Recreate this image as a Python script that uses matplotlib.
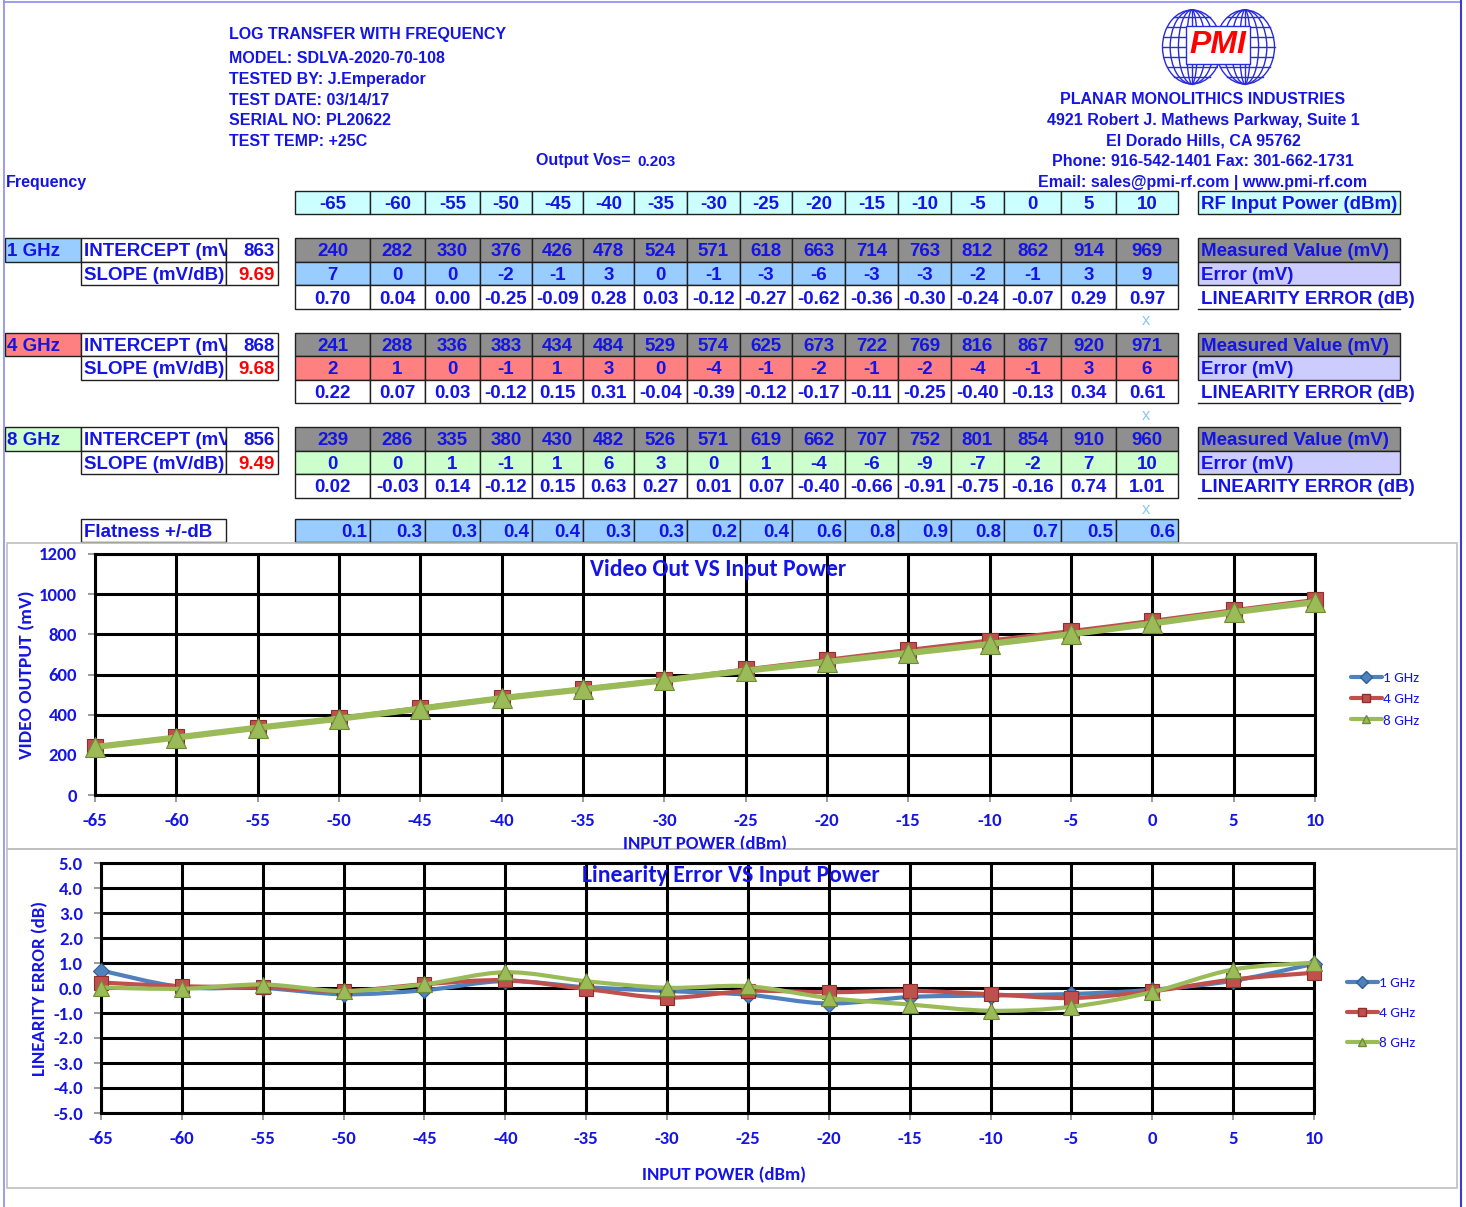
import numpy as np
import matplotlib
matplotlib.use("Agg")
import matplotlib.pyplot as plt
from matplotlib.patches import Rectangle, Ellipse, PathPatch
from matplotlib.path import Path
from matplotlib.lines import Line2D

plt.rcParams['axes.unicode_minus'] = False

# ---- values ----
power = [-65, -60, -55, -50, -45, -40, -35, -30, -25, -20, -15, -10, -5, 0, 5, 10]
freq_labels = ["1 GHz", "4 GHz", "8 GHz"]
intercept = [863, 868, 856]
slope = [9.69, 9.68, 9.49]

meas_1g = [240, 282, 330, 376, 426, 478, 524, 571, 618, 663, 714, 763, 812, 862, 914, 969]
err_1g = [7, 0, 0, -2, -1, 3, 0, -1, -3, -6, -3, -3, -2, -1, 3, 9]
lin_1g = [0.70, 0.04, 0.00, -0.25, -0.09, 0.28, 0.03, -0.12, -0.27, -0.62, -0.36, -0.30, -0.24, -0.07, 0.29, 0.97]

meas_4g = [241, 288, 336, 383, 434, 484, 529, 574, 625, 673, 722, 769, 816, 867, 920, 971]
err_4g = [2, 1, 0, -1, 1, 3, 0, -4, -1, -2, -1, -2, -4, -1, 3, 6]
lin_4g = [0.22, 0.07, 0.03, -0.12, 0.15, 0.31, -0.04, -0.39, -0.12, -0.17, -0.11, -0.25, -0.40, -0.13, 0.34, 0.61]

meas_8g = [239, 286, 335, 380, 430, 482, 526, 571, 619, 662, 707, 752, 801, 854, 910, 960]
err_8g = [0, 0, 1, -1, 1, 6, 3, 0, 1, -4, -6, -9, -7, -2, 7, 10]
lin_8g = [0.02, -0.03, 0.14, -0.12, 0.15, 0.63, 0.27, 0.01, 0.07, -0.40, -0.66, -0.91, -0.75, -0.16, 0.74, 1.01]

flatness = [0.1, 0.3, 0.3, 0.4, 0.4, 0.3, 0.3, 0.2, 0.4, 0.6, 0.8, 0.9, 0.8, 0.7, 0.5, 0.6]
output_vos = 0.203

header_lines = ["LOG TRANSFER WITH FREQUENCY", "MODEL: SDLVA-2020-70-108", "TESTED BY: J.Emperador",
                "TEST DATE: 03/14/17", "SERIAL NO: PL20622", "TEST TEMP: +25C"]
company_lines = ["PLANAR MONOLITHICS INDUSTRIES", "4921 Robert J. Mathews Parkway, Suite 1",
                 "El Dorado Hills, CA 95762", "Phone: 916-542-1401 Fax: 301-662-1731",
                 "Email: sales@pmi-rf.com | www.pmi-rf.com"]

BLUE = '#1414E6'
TFONT = ['Liberation Sans', 'DejaVu Sans']
CFONT = ['Carlito', 'Lato', 'DejaVu Sans']
TSIZE = 13.5
series_colors = ['#4F81BD', '#C0504D', '#9BBB59']
series_edges = ['#2F5F95', '#8E2F2C', '#6E8C35']
series_markers = ['D', 's', '^']
err_fills = ['#99CCFF', '#FF8080', '#CCFFCC']

W, H = 1466, 1207
fig = plt.figure(figsize=(W / 100, H / 100), dpi=100)
bg = fig.add_axes([0, 0, 1, 1])
bg.set_xlim(0, W)
bg.set_ylim(H, 0)
bg.axis('off')


def px_rect(x0, y0, x1, y1):
    return [x0 / W, 1 - y1 / H, (x1 - x0) / W, (y1 - y0) / H]


def ftext(x, y, s, **kw):
    return fig.text(x / W, 1 - y / H, s, **kw)


def cell(x0, x1, y0, y1, fill='white', text=None, color=BLUE, ha='center', size=TSIZE, clip=False, pad=3):
    r = Rectangle((x0, y0), x1 - x0, y1 - y0, facecolor=fill, edgecolor='#202020', lw=1.0)
    bg.add_patch(r)
    if text is not None:
        tx = {'center': (x0 + x1) / 2, 'left': x0 + pad, 'right': x1 - pad}[ha]
        t = bg.text(tx, (y0 + y1) / 2 + 2, text, ha=ha, va='center', color=color,
                    fontsize=size, fontweight='bold', family=TFONT)
        if clip:
            t.set_clip_on(True)
            t.set_clip_path(r)
    return r


# page frame
bg.plot([4, 4], [0, H], color='#8C8CF0', lw=1.2)
bg.plot([4, 1461], [2, 2], color='#8C8CF0', lw=1.2)
bg.plot([1461, 1461], [0, H], color='#3B3BD0', lw=1.5)

# header text
for i, line in enumerate(header_lines):
    yy = 34.5 if i == 0 else 58.5 + (i - 1) * 20.8
    bg.text(229, yy, line, ha='left', va='center', color=BLUE, fontsize=11.5,
            fontweight='bold', family=TFONT)
bg.text(536, 161, "Output Vos=", ha='left', va='center', color=BLUE, fontsize=11.5,
        fontweight='bold', family=TFONT)
bg.text(637, 162, f"{output_vos:.3f}", ha='left', va='center', color=BLUE, fontsize=11,
        fontweight='bold', family=TFONT)
bg.text(6, 182.5, "Frequency", ha='left', va='center', color=BLUE, fontsize=11.5,
        fontweight='bold', family=TFONT)

for i, line in enumerate(company_lines):
    bg.text(1203, 99.5 + i * 20.7, line, ha='center', va='center', color=BLUE, fontsize=11.5,
            fontweight='bold', family=TFONT)

# PMI logo
LOGO = '#2A2AE0'
for gx in (1192, 1245):
    rx, ry, cy = 29.5, 37, 47
    for k in [1.0, 0.74, 0.46, 0.18]:
        bg.add_patch(Ellipse((gx, cy), 2 * rx * k, 2 * ry, fill=False, ec=LOGO, lw=1.0))
    bg.plot([gx, gx], [cy - ry, cy + ry], color=LOGO, lw=1.0)
    for fy in np.linspace(-0.8, 0.8, 7):
        half = rx * np.sqrt(1 - fy ** 2)
        bg.plot([gx - half, gx + half], [cy + fy * ry] * 2, color=LOGO, lw=1.0)
bg.text(1218, 45, "PMI", ha='center', va='center', color='#FF0000', fontsize=23,
        fontweight='bold', style='italic', family=TFONT,
        bbox=dict(boxstyle='square,pad=0.12', fc='white', ec=LOGO, lw=1.0))

# table
col_edges = [295, 370, 425, 480, 532, 583, 634, 687, 740, 792, 845, 898, 951, 1004, 1061, 1116, 1178]
for j, p in enumerate(power):
    cell(col_edges[j], col_edges[j + 1], 191, 214, fill='#CCFFFF', text=str(p))
cell(1198, 1400, 191, 214, fill='#CCFFFF', text="RF Input Power (dBm)", ha='left')

blocks = [(meas_1g, err_1g, lin_1g), (meas_4g, err_4g, lin_4g), (meas_8g, err_8g, lin_8g)]
tops = [238, 332.5, 427]
rh = 23.6
for b, (meas, err, lin) in enumerate(blocks):
    y0 = tops[b]
    cell(5, 81, y0, y0 + rh, fill=err_fills[b], text=freq_labels[b], ha='left', pad=2)
    cell(81, 226, y0, y0 + rh, text="INTERCEPT (mV)", ha='left', clip=True)
    cell(226, 278, y0, y0 + rh, text=str(intercept[b]), ha='right')
    cell(81, 226, y0 + rh, y0 + 2 * rh, text="SLOPE (mV/dB)", ha='left', clip=True)
    cell(226, 278, y0 + rh, y0 + 2 * rh, text=f"{slope[b]:.2f}", ha='right', color='#FF0000')
    for j in range(len(power)):
        x0, x1 = col_edges[j], col_edges[j + 1]
        cell(x0, x1, y0, y0 + rh, fill='#8F8F8F', text=str(meas[j]))
        cell(x0, x1, y0 + rh, y0 + 2 * rh, fill=err_fills[b], text=str(err[j]))
        cell(x0, x1, y0 + 2 * rh, y0 + 3 * rh, text=f"{lin[j]:.2f}")
    cell(1198, 1400, y0, y0 + rh, fill='#8F8F8F', text="Measured Value (mV)", ha='left')
    cell(1198, 1400, y0 + rh, y0 + 2 * rh, fill='#CCCCFF', text="Error (mV)", ha='left')
    bg.plot([1198, 1400], [y0 + 3 * rh] * 2, color='#202020', lw=1.0)
    bg.text(1201, y0 + 2.5 * rh + 2, "LINEARITY ERROR (dB)", ha='left', va='center', color=BLUE,
            fontsize=TSIZE, fontweight='bold', family=TFONT)
    bg.text(1146, y0 + 3 * rh + 12, "x", ha='center', va='center', color='#8EC8F0', fontsize=12,
            family=TFONT)

cell(81, 226, 519, 542, text="Flatness +/-dB", ha='left')
for j, f in enumerate(flatness):
    cell(col_edges[j], col_edges[j + 1], 519, 542, fill='#99CCFF', text=f"{f:.1f}", ha='right')

# chart frames
bg.add_patch(Rectangle((7, 543), 1450, 306, fill=False, ec='#BFBFBF', lw=1.2))
bg.add_patch(Rectangle((7, 849), 1450, 339, fill=False, ec='#BFBFBF', lw=1.2))


def smooth_path(x, y):
    pts = np.column_stack([x, y]).astype(float)
    p = np.vstack([pts[0], pts, pts[-1]])
    verts, codes = [pts[0]], [Path.MOVETO]
    for i in range(len(pts) - 1):
        c1 = p[i + 1] + (p[i + 2] - p[i]) / 6
        c2 = p[i + 2] - (p[i + 3] - p[i + 1]) / 6
        verts += [c1, c2, p[i + 2]]
        codes += [Path.CURVE4] * 3
    return Path(verts, codes)


def style_chart(ax, ylim, yticks, yfmt):
    ax.set_xlim(power[0], power[-1])
    ax.set_ylim(*ylim)
    ax.set_xticks(power)
    ax.set_xticklabels([str(p) for p in power])
    ax.set_yticks(yticks)
    ax.set_yticklabels([yfmt.format(v) for v in yticks])
    ax.grid(True, color='black', lw=2.2)
    ax.set_axisbelow(True)
    for s in ax.spines.values():
        s.set_color('black')
        s.set_linewidth(2.2)
    ax.tick_params(direction='out', length=5, width=1.2, color='#8A8A8A', pad=8,
                   labelcolor=BLUE, labelsize=13.5)
    for lab in ax.get_xticklabels() + ax.get_yticklabels():
        lab.set_fontweight('bold')
        lab.set_family(CFONT)


# ---- chart 1: video out ----
ax1 = fig.add_axes(px_rect(95, 554, 1315, 795))
style_chart(ax1, (0, 1200), list(range(0, 1201, 200)), "{:d}")
meas_all = [meas_1g, meas_4g, meas_8g]
lw1 = [2.0, 3.0, 4.5]
ms1 = [8, 12, 14]
for k in range(3):
    ax1.add_patch(PathPatch(smooth_path(power, meas_all[k]), fill=False, ec=series_colors[k],
                            lw=lw1[k], capstyle='round', zorder=3 + k))
    ax1.plot(power, meas_all[k], ls='none', marker=series_markers[k], ms=ms1[k],
             mfc=series_colors[k], mec=series_edges[k], mew=0.8, clip_on=False, zorder=3.5 + k)

# ---- chart 2: linearity error ----
ax2 = fig.add_axes(px_rect(101, 863, 1314, 1113))
style_chart(ax2, (-5, 5), list(range(-5, 6)), "{:.1f}")
lin_all = [lin_1g, lin_4g, lin_8g]
ms2 = [8, 10, 11]
for k in range(3):
    ax2.add_patch(PathPatch(smooth_path(power, lin_all[k]), fill=False, ec=series_colors[k],
                            lw=3.0, capstyle='round', zorder=3 + k))
    ax2.plot(power, lin_all[k], ls='none', marker=series_markers[k], ms=ms2[k],
             mfc=series_colors[k], mec=series_edges[k], mew=0.8, clip_on=False, zorder=3.5 + k)

handles = [Line2D([], [], color=series_colors[k], lw=3, marker=series_markers[k], ms=6,
                  mfc=series_colors[k], mec=series_edges[k], solid_capstyle='round') for k in range(3)]
ax1.legend(handles, freq_labels, loc='center left', bbox_to_anchor=((1351 - 95) / 1220, (795 - 699) / 241),
           frameon=False, prop=dict(family=CFONT, size=11), labelcolor=BLUE, handlelength=2.0,
           handletextpad=0.1, labelspacing=0.56, borderaxespad=0, borderpad=0)
ax2.legend(handles, freq_labels, loc='center left', bbox_to_anchor=((1347 - 101) / 1213, (1113 - 1013) / 250),
           frameon=False, prop=dict(family=CFONT, size=11), labelcolor=BLUE, handlelength=2.0,
           handletextpad=0.1, labelspacing=1.14, borderaxespad=0, borderpad=0)

# chart titles and axis labels
ftext(718, 569, "Video Out VS Input Power", ha='center', va='center', color=BLUE, fontsize=17,
      fontweight='bold', family=CFONT)
ftext(731, 875, "Linearity Error VS Input Power", ha='center', va='center', color=BLUE, fontsize=17,
      fontweight='bold', family=CFONT)
xl = ftext(705, 844, "INPUT POWER (dBm)", ha='center', va='center', color=BLUE, fontsize=13.5,
           fontweight='bold', family=CFONT)
xl.set_clip_on(True)
xl.set_clip_path(Rectangle((7, 543), 1450, 306, transform=bg.transData))
ftext(724, 1175, "INPUT POWER (dBm)", ha='center', va='center', color=BLUE, fontsize=13.5,
      fontweight='bold', family=CFONT)
ftext(27, 675, "VIDEO OUTPUT (mV)", ha='center', va='center', rotation=90, color=BLUE, fontsize=14,
      fontweight='bold', family=CFONT)
ftext(40, 988, "LINEARITY ERROR (dB)", ha='center', va='center', rotation=90, color=BLUE, fontsize=13.5,
      fontweight='bold', family=CFONT)

fig.savefig("out.png", dpi=100)
